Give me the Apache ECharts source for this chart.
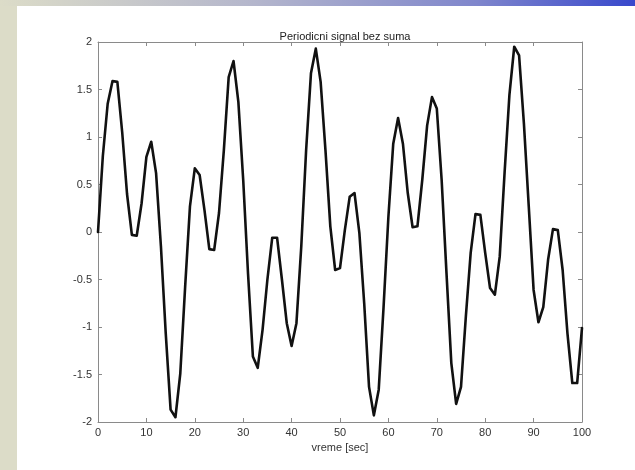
<!DOCTYPE html>
<html>
<head>
<meta charset="utf-8">
<script src="https://cdn.jsdelivr.net/npm/echarts@6/dist/echarts.min.js"></script>
<style>
  html, body { margin: 0; padding: 0; background: #fff; }
  #wrap { position: relative; width: 635px; height: 470px; overflow: hidden; background: #fff; }
  #side { position: absolute; left: 0; top: 0; width: 17px; height: 470px; background: #dcdcc8; }
  #band { position: absolute; left: 0; top: 0; width: 635px; height: 6px;
          background: linear-gradient(to right, #dcdcc8 0%, #b4b6cc 40%, #7f86cc 75%, #3848cc 100%); }
  #chart { position: absolute; left: 0; top: 0; width: 635px; height: 470px; }
</style>
</head>
<body>
<div id="wrap">
  <div id="side"></div>
  <div id="band"></div>
  <div id="chart"></div>
</div>
<script>
// sampled once per second, t = 0 .. 100
var signal = [
  0, 0.8, 1.35, 1.59, 1.58, 1.05, 0.4, -0.03, -0.04, 0.3,
  0.79, 0.95, 0.62, -0.15, -1.07, -1.87, -1.95, -1.49, -0.58, 0.27,
  0.67, 0.6, 0.23, -0.18, -0.19, 0.2, 0.86, 1.63, 1.8, 1.37,
  0.55, -0.44, -1.31, -1.43, -1.03, -0.5, -0.06, -0.06, -0.5, -0.96,
  -1.2, -0.96, -0.15, 0.86, 1.67, 1.93, 1.58, 0.86, 0.06, -0.4,
  -0.38, 0.02, 0.37, 0.41, -0.01, -0.75, -1.63, -1.93, -1.66, -0.79,
  0.16, 0.93, 1.2, 0.93, 0.41, 0.05, 0.06, 0.55, 1.12, 1.42,
  1.3, 0.55, -0.43, -1.38, -1.81, -1.63, -0.89, -0.22, 0.19, 0.18,
  -0.22, -0.59, -0.66, -0.26, 0.62, 1.44, 1.95, 1.86, 1.14, 0.27,
  -0.61, -0.95, -0.79, -0.29, 0.03, 0.02, -0.4, -1.07, -1.59, -1.59,
  -1.01
];
var xTicks = [0, 10, 20, 30, 40, 50, 60, 70, 80, 90, 100];
var yTicks = [-2, -1.5, -1, -0.5, 0, 0.5, 1, 1.5, 2];

var points = signal.map(function (v, i) { return [i, v]; });

var chart = echarts.init(document.getElementById('chart'));
var axisGray = '#8a8a8a';
var labelStyle = { color: '#333', fontSize: 11, fontFamily: 'Liberation Sans, Arial, sans-serif' };

var option = {
  animation: false,
  title: {
    text: 'Periodicni signal bez suma',
    left: 340, top: 26, textAlign: 'center',
    textStyle: { color: '#222', fontSize: 11, fontWeight: 'normal', fontFamily: 'Liberation Sans, Arial, sans-serif' }
  },
  grid: { left: 98, right: 53, top: 42, bottom: 48 },
  xAxis: [{
    type: 'value', min: xTicks[0], max: xTicks[xTicks.length - 1], interval: 10,
    name: 'vreme [sec]', nameLocation: 'middle', nameGap: 19,
    nameTextStyle: labelStyle,
    axisLine: { onZero: false, lineStyle: { color: axisGray, width: 1 } },
    axisTick: { inside: true, length: 4, lineStyle: { color: axisGray } },
    axisLabel: Object.assign({ margin: 5 }, labelStyle),
    splitLine: { show: false }
  }, {
    type: 'value', position: 'top', min: 0, max: 100, interval: 10,
    axisLine: { show: true, onZero: false, lineStyle: { color: axisGray, width: 1 } },
    axisTick: { inside: true, length: 4, lineStyle: { color: axisGray } },
    axisLabel: { show: false }, splitLine: { show: false }
  }],
  yAxis: [{
    type: 'value', min: yTicks[0], max: yTicks[yTicks.length - 1], interval: 0.5,
    axisLine: { show: true, onZero: false, lineStyle: { color: axisGray, width: 1 } },
    axisTick: { show: true, inside: true, length: 4, lineStyle: { color: axisGray } },
    axisLabel: Object.assign({ margin: 6 }, labelStyle),
    splitLine: { show: false }
  }, {
    type: 'value', position: 'right', min: -2, max: 2, interval: 0.5,
    axisLine: { show: true, onZero: false, lineStyle: { color: axisGray, width: 1 } },
    axisTick: { show: true, inside: true, length: 4, lineStyle: { color: axisGray } },
    axisLabel: { show: false }, splitLine: { show: false }
  }],
  series: [{
    type: 'line',
    data: points,
    showSymbol: false,
    symbol: 'none',
    lineStyle: { color: '#111', width: 2.6, join: 'round', cap: 'round' }
  }]
};

option && chart.setOption(option);

window.addEventListener('resize', function () {
  chart.resize();
});
</script>
</body>
</html>
